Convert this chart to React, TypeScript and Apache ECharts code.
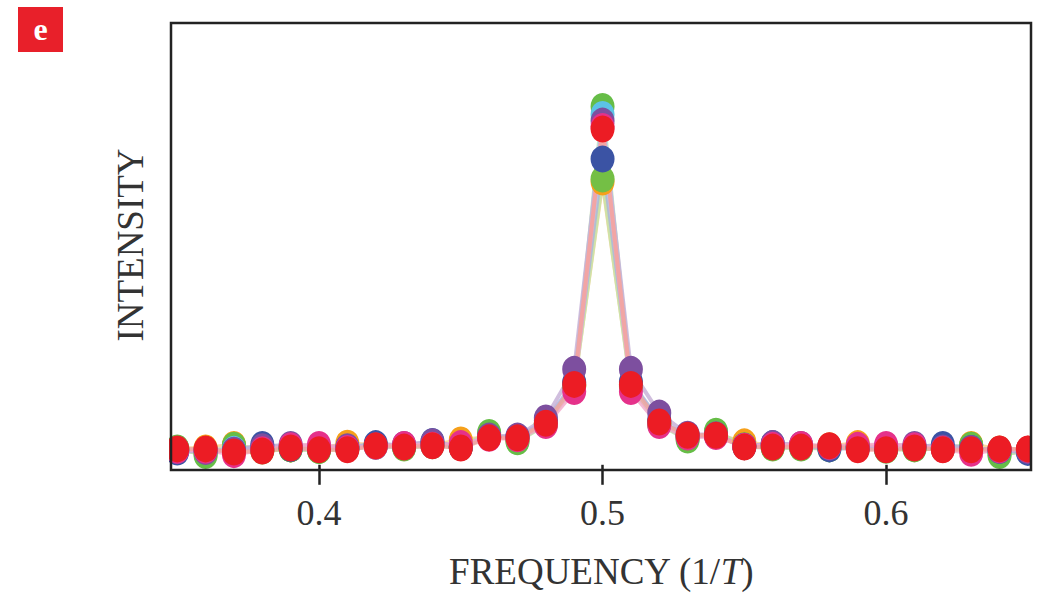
import React, { useEffect, useRef } from "react";
import * as echarts from "echarts";

// Frequency samples (1/T)
const freqs = [
  0.35, 0.36, 0.37, 0.38, 0.39, 0.4, 0.41, 0.42, 0.43, 0.44, 0.45, 0.46, 0.47, 0.48, 0.49, 0.5,
  0.51, 0.52, 0.53, 0.54, 0.55, 0.56, 0.57, 0.58, 0.59, 0.6, 0.61, 0.62, 0.63, 0.64, 0.65,
];

// Intensity values (arbitrary units)
const orange = [3.7,3.8,4.6,3.3,3.6,3.6,4.9,4.4,4.0,4.5,5.6,6.3,6.0,9.3,18.1,64.0,18.1,9.4,6.6,6.8,5.2,4.2,4.2,4.3,4.8,3.5,3.9,3.6,4.6,3.6,3.5];
const green2 = [3.5,2.4,4.4,3.1,3.6,3.3,3.7,4.4,3.8,4.5,3.9,7.0,5.4,9.3,17.9,64.7,17.6,9.3,5.9,7.3,4.1,3.8,3.9,3.6,4.1,3.5,3.7,3.5,4.4,2.4,3.0];
const green1 = [3.8,2.1,4.3,3.4,3.6,3.2,3.6,4.2,3.9,4.3,4.1,7.3,5.2,9.1,17.7,81.1,17.9,9.2,5.6,7.6,4.3,3.9,3.8,3.9,4.0,3.3,3.6,3.8,4.4,2.1,3.4];
const cyan = [3.5,3.4,3.5,3.6,3.8,3.6,3.7,4.2,4.1,4.4,4.0,6.3,6.2,9.5,18.4,79.3,18.5,9.8,6.6,6.6,4.1,4.2,4.1,4.2,3.7,3.6,3.9,3.7,3.5,3.5,3.4];
const blue = [2.9,3.3,3.2,4.6,3.7,3.6,3.9,4.8,4.3,5.3,4.0,6.3,6.3,10.0,18.7,69.2,18.8,10.1,6.4,6.6,4.2,4.8,4.3,3.6,3.8,3.6,4.0,4.6,3.7,3.3,2.8];
const purple = [3.2,3.0,3.3,4.1,4.6,4.1,4.1,4.3,4.6,5.2,3.9,6.5,6.5,10.6,21.6,77.8,21.6,11.7,6.9,6.8,4.1,4.8,4.6,4.0,3.8,4.2,4.6,3.8,3.7,3.3,3.2];
const magenta = [3.3,3.3,2.3,3.4,4.3,4.6,3.7,4.2,4.6,4.4,4.8,6.0,5.9,8.9,16.6,76.6,16.6,8.9,6.3,6.4,4.2,4.4,4.6,4.2,4.4,4.6,4.3,3.5,2.6,3.4,3.5];
const red = [3.6,3.6,2.9,3.1,3.8,3.4,3.4,4.3,4.0,4.3,3.8,6.1,6.1,9.4,18.2,76.0,18.2,9.7,6.7,6.7,4.0,4.0,4.0,4.3,3.4,3.4,3.8,3.4,3.4,3.6,3.6];

const seriesList = [
  { name: "s1", values: orange, color: "#f6a01a", lineColor: "#f9cf8c" },
  { name: "s2", values: green2, color: "#74bf45", lineColor: "#c3e3a8" },
  { name: "s3", values: green1, color: "#66bd47", lineColor: "#bfe0ad" },
  { name: "s4", values: cyan, color: "#5cc3e6", lineColor: "#b5e2f3" },
  { name: "s5", values: blue, color: "#3b53a4", lineColor: "#aab4dc" },
  { name: "s6", values: purple, color: "#7d4f9f", lineColor: "#c4aed6" },
  { name: "s7", values: magenta, color: "#e5318a", lineColor: "#f2a6c8" },
  { name: "s8", values: red, color: "#ec1c24", lineColor: "#f4a49a" },
];

const xTicks = [0.4, 0.5, 0.6];

const SERIF = "'Liberation Serif', 'DejaVu Serif', serif";

export default function App() {
  const ref = useRef<HTMLDivElement>(null);

  useEffect(() => {
    if (!ref.current) return;
    const chart = echarts.init(ref.current, undefined, { renderer: "svg" });

    const lineSeries = seriesList.map((s) => ({
      type: "line",
      name: s.name,
      data: freqs.map((f, i) => [f, s.values[i]]),
      showSymbol: false,
      symbol: "none",
      z: 2,
      lineStyle: { color: s.lineColor, width: 4, opacity: 0.8 },
      clip: true,
    }));

    const dotSeries = seriesList.map((s, k) => ({
      type: "scatter",
      name: s.name + "_pts",
      data: freqs.map((f, i) => [f, s.values[i]]),
      symbol: "circle",
      symbolSize: [24, 27],
      z: 3 + k * 0.01,
      itemStyle: { color: s.color, opacity: 1 },
      clip: false,
    }));

    chart.setOption({
      animation: false,
      backgroundColor: "#ffffff",
      grid: { left: 171, right: 6, top: 23, bottom: 125, show: false },
      xAxis: {
        type: "value",
        min: 0.3478,
        max: 0.6511,
        axisLine: { show: false },
        splitLine: { show: false },
        axisTick: {
          show: true,
          customValues: xTicks,
          length: 20,
          inside: false,
          lineStyle: { color: "#222", width: 2.5 },
        },
        axisLabel: {
          show: true,
          customValues: xTicks,
          formatter: (v: number) => v.toFixed(1),
          fontFamily: SERIF,
          fontSize: 36,
          color: "#333",
          margin: 28,
        },
        name: "FREQUENCY (1/{i|T})",
        nameLocation: "middle",
        nameGap: 86,
        nameTextStyle: {
          fontFamily: SERIF,
          fontSize: 37,
          color: "#333",
          rich: { i: { fontFamily: SERIF, fontSize: 37, fontStyle: "italic", color: "#333" } },
        },
      },
      yAxis: {
        type: "value",
        min: -0.5,
        max: 100,
        axisLine: { show: false },
        axisTick: { show: false },
        axisLabel: { show: false },
        splitLine: { show: false },
        name: "INTENSITY",
        nameLocation: "middle",
        nameGap: 22,
        nameRotate: 90,
        nameTextStyle: { fontFamily: SERIF, fontSize: 37, color: "#333" },
      },
      graphic: [
        { type: "rect", z: 50, shape: { x: 150, y: 0, width: 19, height: 475 }, style: { fill: "#fff" }, silent: true },
        { type: "rect", z: 50, shape: { x: 1032, y: 0, width: 10, height: 475 }, style: { fill: "#fff" }, silent: true },
        {
          type: "rect",
          z: 60,
          shape: { x: 171, y: 23, width: 860, height: 447 },
          style: { fill: "none", stroke: "#222", lineWidth: 2.5 },
          silent: true,
        },
        { type: "rect", z: 60, shape: { x: 18, y: 7, width: 45, height: 45 }, style: { fill: "#e8202a" }, silent: true },
        {
          type: "text",
          z: 61,
          x: 40.5,
          y: 29,
          style: {
            text: "e",
            fill: "#fff",
            font: "bold 32px " + SERIF,
            align: "center",
            verticalAlign: "middle",
          },
          silent: true,
        },
      ],
      series: [...lineSeries, ...dotSeries],
    });

    return () => chart.dispose();
  }, []);

  return (
    <div
      ref={ref}
      style={{ position: "fixed", left: 0, top: 0, width: 1037, height: 595, background: "#fff" }}
    />
  );
}
